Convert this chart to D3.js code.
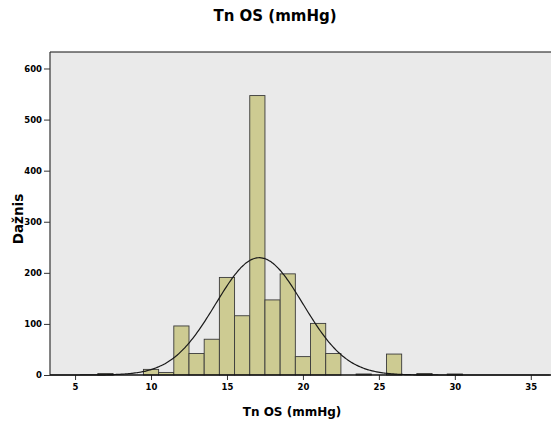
<!DOCTYPE html>
<html>
<head>
<meta charset="utf-8">
<script src="https://cdn.jsdelivr.net/npm/d3@7"></script>
<style>
  body { margin: 0; background: #fff; }
  svg { display: block; }
  text { font-family: "DejaVu Sans", "Liberation Sans", Arial, sans-serif; font-weight: bold; fill: #000; }
</style>
</head>
<body>
<div id="chart"></div>
<script>
// bin centres (mmHg), bin width 1
var binCenters = [7, 10, 11, 12, 13, 14, 15, 16, 17, 18, 19, 20, 21, 22, 24, 26, 28, 30];
var binCounts  = [3, 11, 5, 96, 42, 70, 191, 116, 547, 147, 198, 36, 101, 42, 2, 41, 3, 2];
var xTicks = [5, 10, 15, 20, 25, 30, 35];
var yTicks = [0, 100, 200, 300, 400, 500, 600];
var binWidth = 1;

var width = 551, height = 422;
var mLeft = 50, mRight = 551, mTop = 52, mBottom = 375;

var svg = d3.select("#chart").append("svg")
    .attr("width", width)
    .attr("height", height);

var x = d3.scaleLinear().domain([3.35, 36.33]).range([mLeft, mRight]);
var y = d3.scaleLinear().domain([0, 632.3]).range([mBottom, mTop]);

/* plot background */
svg.append("rect")
    .attr("x", mLeft).attr("y", mTop)
    .attr("width", mRight - mLeft).attr("height", mBottom - mTop)
    .attr("fill", "#eaeaea");

/* bars */
var bins = binCenters.map(function(c, i){ return {c: c, n: binCounts[i]}; });
svg.selectAll("rect.bar")
    .data(bins)
    .enter()
    .append("rect")
    .attr("class", "bar")
    .attr("x", d => x(d.c - binWidth/2))
    .attr("y", d => y(d.n))
    .attr("width", d => x(d.c + binWidth/2) - x(d.c - binWidth/2))
    .attr("height", d => y(0) - y(d.n))
    .attr("fill", "#cdcb92")
    .attr("stroke", "#3a3a3a")
    .attr("stroke-width", 0.9);

/* normal curve from the data's mean and sd */
var total = d3.sum(binCounts);
var mean = d3.sum(bins, d => d.c * d.n) / total;
var sd = Math.sqrt(d3.sum(bins, d => d.n * (d.c - mean) * (d.c - mean)) / (total - 1));
var curveX = d3.range(3.35, 36.33, 0.1);
var line = d3.line()
    .x(d => x(d))
    .y(d => y(total * binWidth / (sd * Math.sqrt(2*Math.PI)) * Math.exp(-(d-mean)*(d-mean)/(2*sd*sd))))
    .curve(d3.curveBasis);
svg.append("path")
    .datum(curveX)
    .attr("d", line)
    .attr("fill", "none")
    .attr("stroke", "#1a1a1a")
    .attr("stroke-width", 1.2);

/* axes */
var xAxis = d3.axisBottom(x).tickValues(xTicks).tickSize(5).tickPadding(4);
var gx = svg.append("g")
    .attr("transform", "translate(0," + mBottom + ")")
    .call(xAxis);
gx.select(".domain").remove();
gx.selectAll("line").attr("stroke", "#333");
gx.selectAll("text").style("font-size", "8.5px").style("font-weight", "bold");

var yAxis = d3.axisLeft(y).tickValues(yTicks).tickSize(6).tickPadding(2);
var gy = svg.append("g")
    .attr("transform", "translate(" + mLeft + ",0)")
    .call(yAxis);
gy.select(".domain").remove();
gy.selectAll("line").attr("stroke", "#333");
gy.selectAll("text").style("font-size", "8.5px").style("font-weight", "bold");

/* frame lines */
svg.append("line").attr("x1", mLeft).attr("x2", mRight).attr("y1", mTop).attr("y2", mTop)
    .attr("stroke", "#111").attr("stroke-width", 1.2);
svg.append("line").attr("x1", mLeft).attr("x2", mLeft).attr("y1", mTop).attr("y2", mBottom)
    .attr("stroke", "#333").attr("stroke-width", 1.2);
svg.append("line").attr("x1", mLeft).attr("x2", mRight).attr("y1", mBottom).attr("y2", mBottom)
    .attr("stroke", "#111").attr("stroke-width", 1.4);

/* titles */
svg.append("text")
    .attr("x", 275).attr("y", 21)
    .attr("text-anchor", "middle")
    .style("font-size", "15px")
    .text("Tn OS (mmHg)");

svg.append("text")
    .attr("x", 292).attr("y", 416)
    .attr("text-anchor", "middle")
    .style("font-size", "12px")
    .text("Tn OS (mmHg)");

svg.append("text")
    .attr("transform", "translate(23,219) rotate(-90)")
    .attr("text-anchor", "middle")
    .style("font-size", "13.5px")
    .text("Dažnis");
</script>
</body>
</html>
